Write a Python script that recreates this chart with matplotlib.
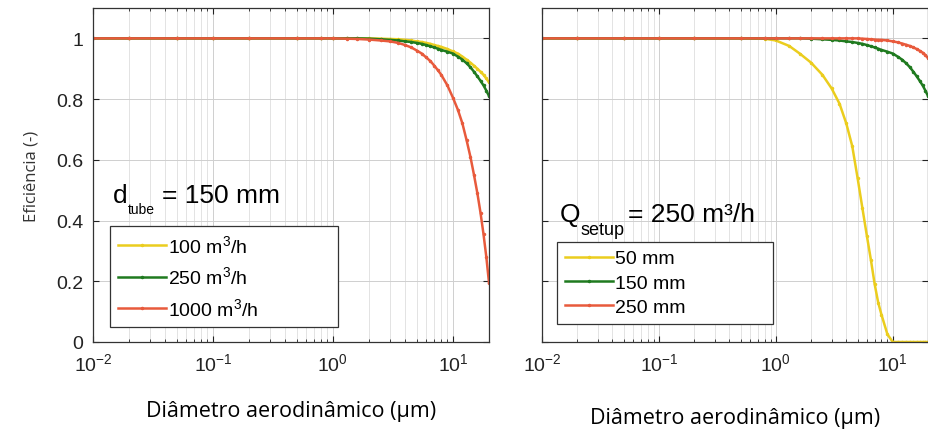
import numpy as np
import matplotlib
matplotlib.use('Agg')
import matplotlib.pyplot as plt
from matplotlib.ticker import LogLocator, NullFormatter

plt.rcParams['font.family'] = ['Liberation Sans', 'DejaVu Sans']
plt.rcParams['mathtext.fontset'] = 'custom'
plt.rcParams['mathtext.rm'] = 'Liberation Sans'
plt.rcParams['mathtext.it'] = 'Liberation Sans:italic'
plt.rcParams['axes.unicode_minus'] = False

# aerodynamic diameter (um)
diam = [0.01, 0.02, 0.05, 0.1, 0.2, 0.5, 0.8, 1, 1.3, 1.6, 2, 2.5, 3, 3.5, 4, 4.5,
        5, 5.5, 6, 6.5, 7, 7.5, 8, 9, 10, 11, 12, 13, 14, 15, 16, 17, 18, 19, 20]

# left panel: d_tube = 150 mm, flow rates
eff_q100 = [1, 1, 1, 1, 1, 1, 1, 1, 1, 1, 1, 0.999, 0.998, 0.997, 0.995, 0.993,
            0.99, 0.988, 0.985, 0.982, 0.978, 0.975, 0.972, 0.965, 0.957, 0.95, 0.94,
            0.93, 0.92, 0.91, 0.9, 0.89, 0.88, 0.868, 0.855]
eff_q250 = [1, 1, 1, 1, 1, 1, 1, 1, 1, 1, 0.999, 0.997, 0.995, 0.993, 0.99, 0.988,
            0.985, 0.982, 0.978, 0.974, 0.97, 0.966, 0.962, 0.956, 0.95, 0.94, 0.93,
            0.918, 0.905, 0.89, 0.875, 0.86, 0.845, 0.828, 0.81]
eff_q1000 = [1, 1, 1, 1, 1, 1, 1, 1, 0.999, 0.998, 0.996, 0.993, 0.99, 0.985, 0.978,
             0.97, 0.96, 0.95, 0.937, 0.925, 0.91, 0.895, 0.88, 0.845, 0.805, 0.765,
             0.72, 0.665, 0.61, 0.55, 0.49, 0.425, 0.355, 0.28, 0.195]

# right panel: Q_setup = 250 m3/h, tube diameters
eff_d50 = [1, 1, 1, 1, 1, 1, 0.999, 0.993, 0.975, 0.95, 0.92, 0.88, 0.835, 0.785,
           0.72, 0.645, 0.54, 0.44, 0.35, 0.27, 0.19, 0.13, 0.09, 0.025, 0, 0, 0,
           0, 0, 0, 0, 0, 0, 0, 0]
eff_d150 = eff_q250
eff_d250 = [1, 1, 1, 1, 1, 1, 1, 1, 1, 1, 1, 1, 1, 1, 1, 1, 1, 0.999, 0.998, 0.997,
            0.996, 0.995, 0.995, 0.993, 0.99, 0.987, 0.983, 0.979, 0.975, 0.97,
            0.965, 0.959, 0.953, 0.945, 0.935]

left_labels = ['100 m$^3$/h', '250 m$^3$/h', '1000 m$^3$/h']
right_labels = ['50 mm', '150 mm', '250 mm']
yticks = [0, 0.2, 0.4, 0.6, 0.8, 1]
yticklabels = ['0', '0.2', '0.4', '0.6', '0.8', '1']

YELLOW = '#ebcd1e'
GREEN = '#1f7a1f'
RED = '#e85a3c'


def style_axes(ax, show_ylabels):
    ax.set_xscale('log')
    ax.set_xlim(0.01, 20)
    ax.set_ylim(0, 1.1)
    ax.set_yticks(yticks)
    ax.set_yticklabels(yticklabels if show_ylabels else [])
    ax.xaxis.set_major_locator(LogLocator(base=10, numticks=10))
    ax.xaxis.set_minor_locator(LogLocator(base=10, subs=np.arange(2, 10), numticks=20))
    ax.xaxis.set_minor_formatter(NullFormatter())
    ax.grid(True, which='major', color='#cfcfcf', lw=0.7)
    ax.grid(True, which='minor', axis='x', color='#dedede', lw=0.6)
    ax.tick_params(which='both', direction='in', top=True, right=True,
                   labelsize=14, colors='#222222', length=4)
    ax.tick_params(which='minor', length=2.5)
    ax.tick_params(axis='x', pad=7)
    ax.tick_params(axis='y', pad=7)
    for s in ax.spines.values():
        s.set_color('#333333')
        s.set_linewidth(0.9)


fig = plt.figure(figsize=(9.29, 4.31), dpi=100)
ax1 = fig.add_axes([93 / 929, 1 - 343 / 431, 396 / 929, 334 / 431])
ax2 = fig.add_axes([542 / 929, 1 - 343 / 431, 386 / 929, 334 / 431])

for y, c, lab in zip([eff_q100, eff_q250, eff_q1000], [YELLOW, GREEN, RED], left_labels):
    ax1.plot(diam, y, color=c, lw=1.8, marker='.', ms=3, label=lab)
for y, c, lab in zip([eff_d50, eff_d150, eff_d250], [YELLOW, GREEN, RED], right_labels):
    ax2.plot(diam, y, color=c, lw=1.8, marker='.', ms=3, label=lab)

style_axes(ax1, True)
style_axes(ax2, False)

ax1.set_ylabel('Eficiência (-)', fontsize=12, family='Open Sans', color='#333333', labelpad=12)
ax1.set_xlabel('Diâmetro aerodinâmico (µm)', fontsize=15.5, family='Open Sans', labelpad=19)
ax2.set_xlabel('Diâmetro aerodinâmico (µm)', fontsize=15.5, family='Open Sans', labelpad=24)

ax1.text(0.05, 0.42, 'd', transform=ax1.transAxes, fontsize=19, va='baseline', ha='left')
ax1.text(0.087, 0.385, 'tube', transform=ax1.transAxes, fontsize=10, va='baseline', ha='left')
ax1.text(0.175, 0.42, '= 150 mm', transform=ax1.transAxes, fontsize=19, va='baseline', ha='left')
ax2.text(0.047, 0.362, 'Q', transform=ax2.transAxes, fontsize=19, va='baseline', ha='left')
ax2.text(0.1, 0.322, 'setup', transform=ax2.transAxes, fontsize=13, va='baseline', ha='left')
ax2.text(0.222, 0.362, '= 250 m³/h', transform=ax2.transAxes, fontsize=19, va='baseline', ha='left')

leg1 = ax1.legend(loc='lower left', bbox_to_anchor=(0.043, 0.045, 0.576, 0.311),
                  mode='expand', fontsize=14, handlelength=2.5, handletextpad=0.1,
                  labelspacing=0.5, borderaxespad=0, fancybox=False, framealpha=1)
leg2 = ax2.legend(loc='lower left', bbox_to_anchor=(0.039, 0.054, 0.56, 0.25),
                  mode='expand', fontsize=14, handlelength=2.5, handletextpad=0.1,
                  labelspacing=0.35, borderaxespad=0, fancybox=False, framealpha=1)
for leg in (leg1, leg2):
    leg.get_frame().set_edgecolor('#333333')
    leg.get_frame().set_linewidth(0.9)

fig.savefig('out.png', dpi=100)
